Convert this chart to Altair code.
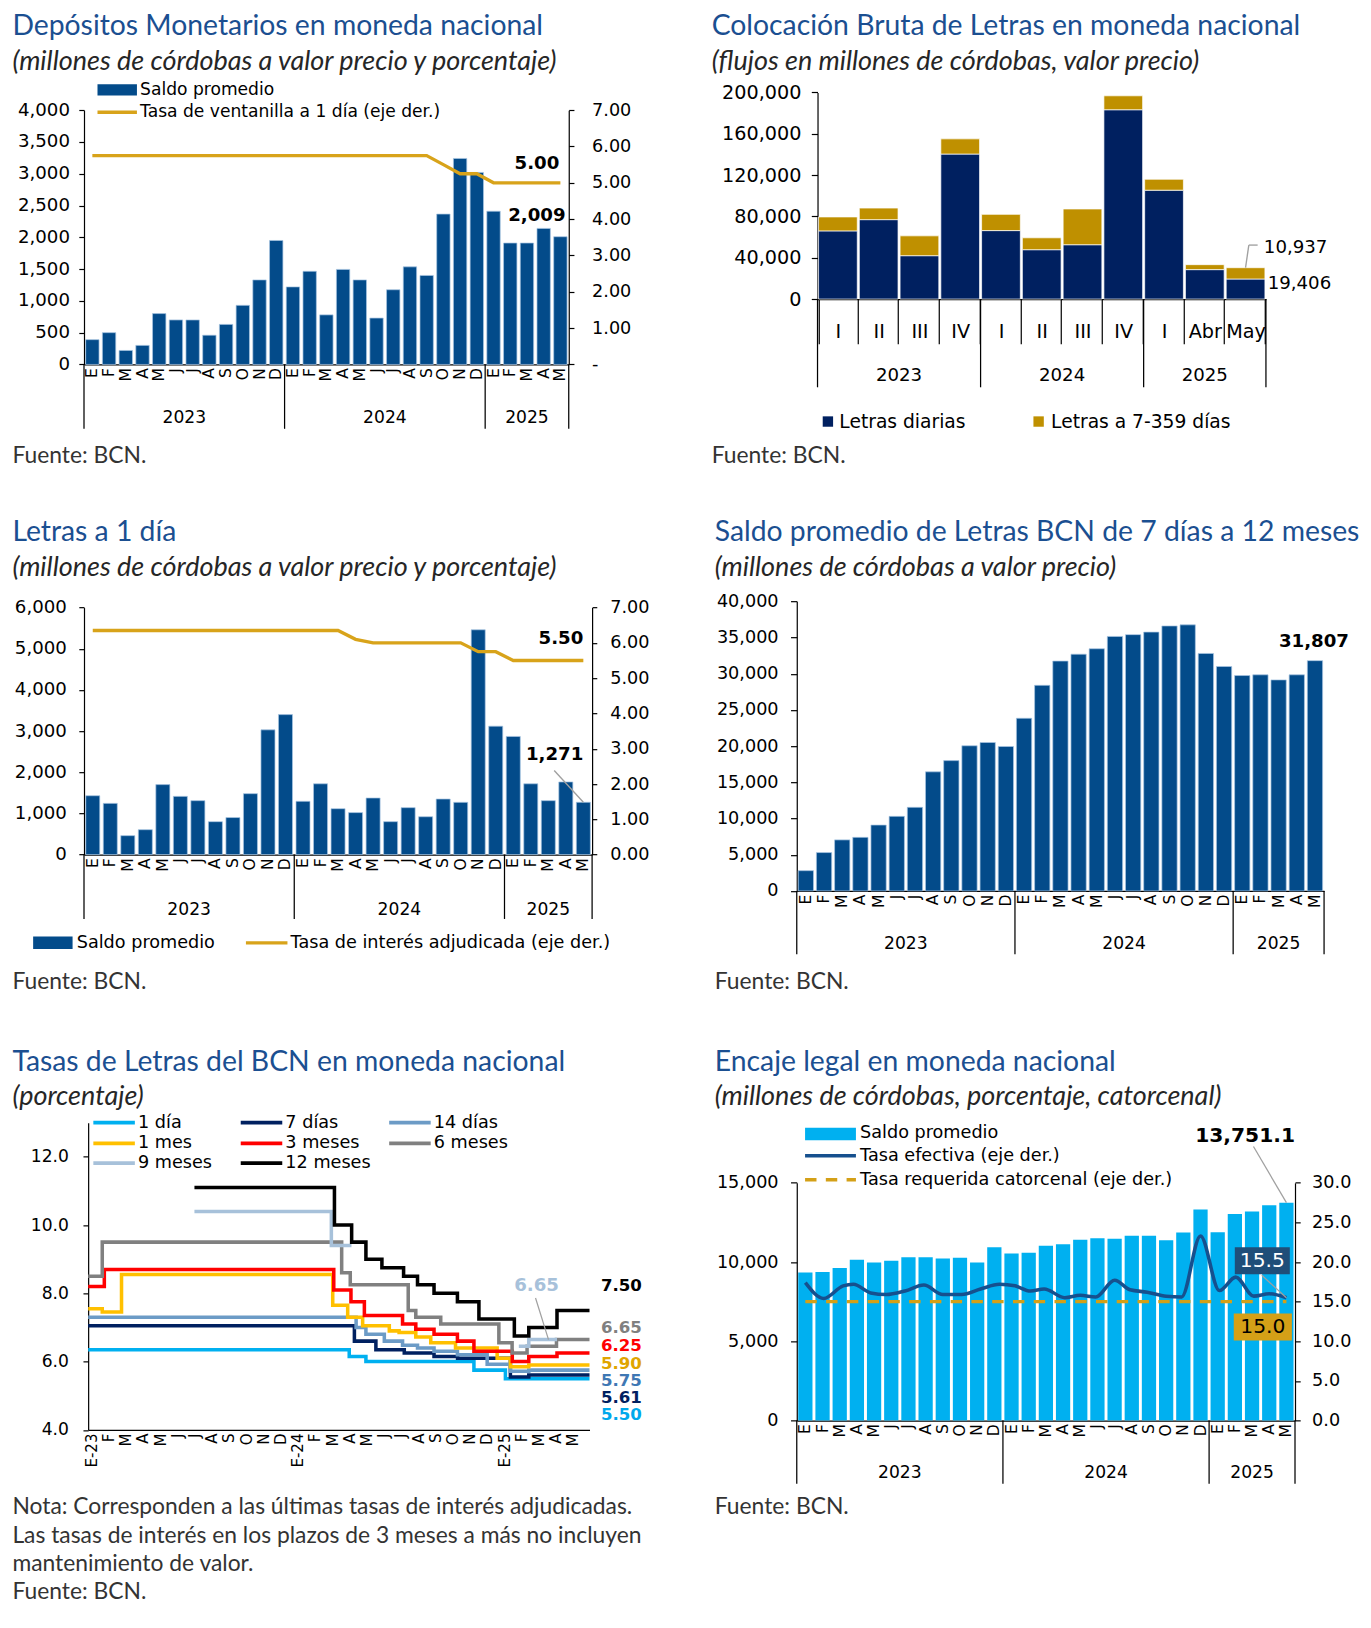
import altair as alt
import pandas as pd

# ======================= DATA =======================
MESES = ["E", "F", "M", "A", "M", "J", "J", "A", "S", "O", "N", "D"]

# 1) Depósitos monetarios en moneda nacional (E-23 .. M-25)
dep_saldo = [390, 500, 220, 300, 800, 700, 700, 460, 630, 930, 1330, 1950,
             1220, 1465, 780, 1495, 1330, 730, 1175, 1535, 1400, 2365, 3240, 3020,
             2410, 1910, 1910, 2140, 2009]
dep_tasa = [5.75, 5.75, 5.75, 5.75, 5.75, 5.75, 5.75, 5.75, 5.75, 5.75, 5.75, 5.75,
            5.75, 5.75, 5.75, 5.75, 5.75, 5.75, 5.75, 5.75, 5.75, 5.50, 5.25, 5.25,
            5.00, 5.00, 5.00, 5.00, 5.00]

# 2) Colocación bruta de letras
col_periodo = ["I", "II", "III", "IV", "I", "II", "III", "IV", "I", "Abr", "May"]
col_anio = [2023, 2023, 2023, 2023, 2024, 2024, 2024, 2024, 2025, 2025, 2025]
col_diarias = [66000, 76900, 42000, 140400, 66300, 47800, 52600, 183300, 105400, 28500, 19406]
col_7_359 = [13500, 11200, 19200, 14700, 15700, 11500, 34600, 13500, 10600, 4800, 10937]

# 3) Letras a 1 día
l1_saldo = [1430, 1245, 460, 605, 1700, 1415, 1310, 800, 900, 1480, 3030, 3400,
            1295, 1720, 1115, 1020, 1375, 800, 1140, 920, 1350, 1270, 5460, 3120,
            2870, 1720, 1310, 1765, 1271]
l1_tasa = [6.35, 6.35, 6.35, 6.35, 6.35, 6.35, 6.35, 6.35, 6.35, 6.35, 6.35, 6.35,
           6.35, 6.35, 6.35, 6.10, 6.00, 6.00, 6.00, 6.00, 6.00, 6.00, 5.75, 5.75,
           5.50, 5.50, 5.50, 5.50, 5.50]

# 4) Saldo promedio de letras de 7 días a 12 meses
l7_saldo = [2800, 5300, 7050, 7400, 9100, 10300, 11550, 16450, 18000, 20050, 20500, 19950,
            23850, 28400, 31750, 32700, 33450, 35150, 35400, 35750, 36600, 36750, 32800, 31000,
            29750, 29850, 29150, 29850, 31807]

# 5) Tasas de letras (mes = meses desde enero 2023; escalones)
t1d_mes = [-0.18, 15.0, 15.97, 22.25, 24.08, 28.97]
t1d_val = [6.35, 6.15, 6.00, 5.75, 5.50, 5.50]
t7d_mes = [-0.18, 15.3, 16.55, 18.2, 19.93, 21.3, 24.37, 25.44, 28.97]
t7d_val = [7.05, 6.60, 6.35, 6.25, 6.15, 6.10, 5.55, 5.61, 5.61]
t14d_mes = [-0.18, 15.4, 15.97, 17.04, 18.1, 18.97, 19.93, 21.29, 23.02, 24.37, 25.44, 28.97]
t14d_val = [7.30, 7.00, 6.80, 6.60, 6.48, 6.40, 6.30, 6.20, 5.92, 5.72, 5.75, 5.75]
t1m_mes = [-0.18, 0.64, 1.76, 14.04, 14.91, 15.78, 17.33, 17.9, 18.87, 19.74, 21.18, 23.6, 24.37, 25.44, 28.97]
t1m_val = [7.55, 7.45, 8.55, 7.65, 7.30, 7.05, 6.90, 6.85, 6.72, 6.55, 6.40, 6.10, 5.85, 5.90, 5.90]
t3m_mes = [-0.18, 0.76, 14.1, 15.1, 15.88, 18.1, 18.87, 19.93, 21.29, 22.25, 24.48, 25.44, 27.08, 28.97]
t3m_val = [8.20, 8.70, 8.10, 7.75, 7.35, 7.10, 6.95, 6.80, 6.60, 6.30, 6.00, 6.15, 6.25, 6.25]
t6m_mes = [-0.18, 0.64, 14.56, 15.06, 18.43, 18.87, 20.32, 23.7, 24.47, 25.34, 27.05, 28.97]
t6m_val = [8.50, 9.50, 8.60, 8.25, 7.50, 7.30, 7.10, 6.55, 6.25, 6.45, 6.65, 6.65]
t9m_mes = [6.0, 13.96, 15.13, 24.86, 25.44, 27.08]
t9m_val = [10.40, 9.40, 9.40, 6.45, 6.65, 6.65]
t9m_tramo = [1, 1, 1, 2, 2, 2]
t12m_mes = [6.0, 14.14, 15.14, 15.97, 16.9, 18.16, 18.97, 19.93, 21.29, 22.54, 24.6, 25.44, 27.08, 28.97]
t12m_val = [11.10, 10.00, 9.50, 9.00, 8.75, 8.50, 8.25, 8.00, 7.75, 7.25, 6.75, 7.00, 7.50, 7.50]

# 6) Encaje legal
enc_saldo = [9340, 9380, 9630, 10140, 9970, 10080, 10310, 10310, 10230, 10270, 9970, 10940,
             10540, 10590, 11030, 11130, 11410, 11510, 11470, 11660, 11660, 11370, 11870, 13310,
             11880, 13040, 13190, 13590, 13751.1]
enc_tasa_mes = [0.0, 1.07, 2.2, 2.8, 3.8, 4.7, 5.8, 6.9, 8.0, 9.1, 10.2, 11.3, 12.2, 13.1, 13.9,
                15.1, 16.0, 16.9, 18.0, 18.9, 19.9, 21.0, 21.9, 23.0, 24.1, 25.05, 26.1, 27.0, 28.0]
enc_tasa = [17.4, 15.4, 17.0, 17.2, 16.1, 15.9, 16.35, 17.1, 15.9, 15.9, 16.6, 17.2, 17.0, 16.35, 16.6,
            15.5, 15.8, 15.6, 17.7, 16.5, 16.2, 15.7, 15.6, 23.3, 16.4, 18.1, 15.7, 16.0, 15.5]
enc_req_mes = [0, 28]
enc_req = [15.0, 15.0]

# ======================= STYLE / LAYOUT =======================
K = 1.038
TF = "Lato"
AF = "DejaVu Sans"
TITLE_C = "#1B4F91"
SUB_C = "#262626"
SRC_C = "#333333"
BAR = "#034B8A"
BAR_EDGE = "#A9C6E3"
GOLD = "#D8A31A"
NAVY = "#002060"
LBLUE = "#00B0F0"
LEAD_C = "#A0A0A0"
NUM = ",.0f"

W, H = 508, 310
ORIG = {1: (79, 75), 2: (765, 75), 3: (79, 574), 4: (765, 574), 5: (79, 1073), 6: (765, 1073)}
PLOT = {1: (79, 546, 105, 350), 2: (785, 1217, 88, 287), 3: (79, 568.5, 584, 822),
        4: (765, 1273, 578, 857), 5: (83, 566, 1080, 1376), 6: (765, 1245, 1138, 1367)}

ONE = pd.DataFrame({"k": [0]})


def rx(i, x):
    return (x - ORIG[i][0]) * K


def ry(i, y):
    return (y - ORIG[i][1]) * K


def xr(i):
    return [rx(i, PLOT[i][0]), rx(i, PLOT[i][1])]


def yr(i):
    return [ry(i, PLOT[i][3]), ry(i, PLOT[i][2])]


def off_left(i):
    return -rx(i, PLOT[i][0])


def off_right(i):
    return rx(i, PLOT[i][1]) - W * K


def off_bottom(i):
    return ry(i, PLOT[i][3]) - H * K


def text(i, s, x, y, size, font=AF, color="black", weight="normal", style="normal",
         align="left", baseline="middle"):
    return alt.Chart(ONE).mark_text(
        text=s, font=font, fontSize=size * K, color=color, fontWeight=weight,
        fontStyle=style, align=align, baseline=baseline
    ).encode(x=alt.value(rx(i, x)), y=alt.value(ry(i, y)))


def rule(i, x1, y1, x2, y2, color="black", width=1.0, dash=None):
    kw = dict(color=color, strokeWidth=width * K)
    if dash is not None:
        kw["strokeDash"] = [d * K for d in dash]
    return alt.Chart(ONE).mark_rule(**kw).encode(
        x=alt.value(rx(i, x1)), x2=alt.value(rx(i, x2)),
        y=alt.value(ry(i, y1)), y2=alt.value(ry(i, y2)))


def box(i, x1, y1, x2, y2, color):
    return alt.Chart(ONE).mark_rect(color=color).encode(
        x=alt.value(rx(i, x1)), x2=alt.value(rx(i, x2)),
        y=alt.value(ry(i, y1)), y2=alt.value(ry(i, y2)))


def heading(i, title, sub, x, y_t, y_s):
    return [text(i, title, x, y_t, 27.3, font=TF, color=TITLE_C),
            text(i, sub, x, y_s + 0.5, 26, font=TF, color=SUB_C, style="italic")]


def source(i, s, x, y, size=22):
    return text(i, s, x, y, size, font=TF, color=SRC_C)


def month_cats(n):
    return [f"{MESES[k % 12]}-{2023 + k // 12}{k % 12:02d}" for k in range(n)]


def month_axis(i, size=15):
    return alt.Axis(orient="bottom", offset=off_bottom(i), labelAngle=-90,
                    labelExpr="split(datum.label, '-')[0]", ticks=False,
                    labelFontSize=size * K, labelPadding=3 * K, title=None,
                    labelOverlap=False)


def year_marks(i, years, domain, y_top, y_bot, y_lab, size=16.5):
    # separators at year boundaries and year labels centred on each year
    idx = list(range(len(years)))
    uniq = []
    for y in years:
        if y not in uniq:
            uniq.append(y)
    firsts = [min(k for k in idx if years[k] == y) for y in uniq]
    lasts = [max(k for k in idx if years[k] == y) for y in uniq]
    cuts = [f - 0.5 for f in firsts] + [lasts[-1] + 0.5]
    cents = [(f + l) / 2 for f, l in zip(firsts, lasts)]
    xs = alt.Scale(domain=domain, range=xr(i), nice=False, zero=False)
    r = alt.Chart(pd.DataFrame({"pos": cuts})).mark_rule(color="black", strokeWidth=1.2 * K).encode(
        x=alt.X("pos:Q", scale=xs, axis=None),
        y=alt.value(ry(i, y_top)), y2=alt.value(ry(i, y_bot)))
    t = alt.Chart(pd.DataFrame({"pos": cents, "lab": [str(u) for u in uniq]})).mark_text(
        font=AF, fontSize=size * K, color="black").encode(
        x=alt.X("pos:Q", scale=xs, axis=None), y=alt.value(ry(i, y_lab)), text="lab:N")
    return [r, t]


def cell(layers):
    return alt.layer(*layers).resolve_scale(x="independent", y="independent").properties(
        width=W * K, height=H * K)


# ======================= PANEL 1 =======================
def panel1():
    i = 1
    n = len(dep_saldo)
    cats = month_cats(n)
    years = [2023 + k // 12 for k in range(n)]
    df = pd.DataFrame({"cat": cats, "idx": list(range(n)), "saldo": dep_saldo, "tasa": dep_tasa})
    xs_b = alt.Scale(domain=cats, range=xr(i), paddingInner=0.2, paddingOuter=0.1)
    xs_q = alt.Scale(domain=[-0.5, n - 0.5], range=xr(i), nice=False, zero=False)
    ys_l = alt.Scale(domain=[0, 4000], range=yr(i), nice=False)
    ys_r = alt.Scale(domain=[0, 7], range=yr(i), nice=False)
    bars = alt.Chart(df).mark_bar(color=BAR, stroke=BAR_EDGE, strokeWidth=0.7).encode(
        x=alt.X("cat:N", sort=cats, scale=xs_b, axis=month_axis(i)),
        y=alt.Y("saldo:Q", scale=ys_l, axis=alt.Axis(
            orient="left", values=list(range(0, 4001, 500)), format=NUM, tickSize=5 * K,
            labelPadding=9 * K, labelFontSize=17.5 * K, title=None, labelOverlap=False)))
    line = alt.Chart(df).mark_line(color=GOLD, strokeWidth=3.2 * K).encode(
        x=alt.X("idx:Q", scale=xs_q, axis=None),
        y=alt.Y("tasa:Q", scale=ys_r, axis=alt.Axis(
            orient="right", offset=off_right(i), values=list(range(0, 8)),
            labelExpr="datum.value == 0 ? '-' : format(datum.value, '.2f')",
            tickSize=5 * K, labelPadding=17 * K, labelFontSize=17 * K, title=None,
            labelOverlap=False)))
    last = df.iloc[[-1]]
    lab_t = alt.Chart(last).mark_text(font=AF, fontWeight="bold", fontSize=17.5 * K, align="right",
                                      dx=-1 * K, dy=-18 * K).encode(
        x=alt.X("idx:Q", scale=xs_q, axis=None), y=alt.Y("tasa:Q", scale=ys_r, axis=None),
        text=alt.Text("tasa:Q", format=".2f"))
    lab_s = alt.Chart(last).mark_text(font=AF, fontWeight="bold", fontSize=17.5 * K, align="right",
                                      dx=5 * K, dy=-20 * K).encode(
        x=alt.X("idx:Q", scale=xs_q, axis=None), y=alt.Y("saldo:Q", scale=ys_l, axis=None),
        text=alt.Text("saldo:Q", format=NUM))
    anchor = alt.Chart(ONE).mark_rule(color="white", strokeWidth=1).encode(
        x=alt.value(8 - 79 * K), x2=alt.value(9 - 79 * K),
        y=alt.value(8 - 75 * K), y2=alt.value(9 - 75 * K))
    layers = [anchor, bars, line, lab_t, lab_s]
    layers += year_marks(i, years, [-0.5, n - 0.5], 350, 412, 402)
    layers += heading(i, "Depósitos Monetarios en moneda nacional",
                      "(millones de córdobas a valor precio y porcentaje)", 10, 24, 58)
    layers += [box(i, 92, 80, 130, 91, BAR), text(i, "Saldo promedio", 133, 85.5, 16.5),
               rule(i, 92, 107, 130, 107, GOLD, 3.2),
               text(i, "Tasa de ventanilla a 1 día (eje der.)", 133, 107, 16.5),
               source(i, "Fuente: BCN.", 10, 438)]
    return cell(layers)


# ======================= PANEL 2 =======================
def panel2():
    i = 2
    n = len(col_periodo)
    cats = [f"{p}-{a}" for p, a in zip(col_periodo, col_anio)]
    rows = []
    for c, d, o in zip(cats, col_diarias, col_7_359):
        rows.append({"cat": c, "serie": "Letras diarias", "valor": d, "ord": 0})
        rows.append({"cat": c, "serie": "Letras a 7-359 días", "valor": o, "ord": 1})
    df = pd.DataFrame(rows)
    xs_b = alt.Scale(domain=cats, range=xr(i), paddingInner=0.05, paddingOuter=0.025)
    xs_q = alt.Scale(domain=[-0.5, n - 0.5], range=xr(i), nice=False, zero=False)
    ys = alt.Scale(domain=[0, 200000], range=yr(i), nice=False)
    bars = alt.Chart(df).mark_bar(stroke="white", strokeWidth=0.7).encode(
        x=alt.X("cat:N", sort=cats, scale=xs_b, axis=alt.Axis(
            orient="bottom", offset=off_bottom(i), labelAngle=0,
            labelExpr="split(datum.label, '-')[0]", tickBand="extent", tickSize=43 * K,
            labelBaseline="middle", labelPadding=-12 * K, labelFontSize=18.5 * K, title=None,
            labelOverlap=False)),
        y=alt.Y("valor:Q", stack="zero", scale=ys, axis=alt.Axis(
            orient="left", offset=off_left(i), values=list(range(0, 200001, 40000)), format=NUM,
            tickSize=6 * K, labelPadding=10 * K, labelFontSize=18.5 * K, title=None,
            labelOverlap=False)),
        color=alt.Color("serie:N", scale=alt.Scale(domain=["Letras diarias", "Letras a 7-359 días"],
                                                   range=[NAVY, "#BF9000"]), legend=None),
        order=alt.Order("ord:Q"))
    last = pd.DataFrame({"idx": [n - 1], "d": [col_diarias[-1]], "o": [col_7_359[-1]],
                         "tot": [col_diarias[-1] + col_7_359[-1]]})
    lab_o = alt.Chart(last).mark_text(font=AF, fontSize=17.5 * K, align="left", dx=17.6 * K,
                                      dy=-19.3 * K).encode(
        x=alt.X("idx:Q", scale=xs_q, axis=None), y=alt.Y("tot:Q", scale=ys, axis=None),
        text=alt.Text("o:Q", format=NUM))
    lab_d = alt.Chart(last).mark_text(font=AF, fontSize=17.5 * K, align="left", dx=21.3 * K,
                                      dy=5.1 * K).encode(
        x=alt.X("idx:Q", scale=xs_q, axis=None), y=alt.Y("d:Q", scale=ys, axis=None),
        text=alt.Text("d:Q", format=NUM))
    lead = alt.Chart(last).mark_rule(color=LEAD_C, strokeWidth=1.3 * K).encode(
        x=alt.X("idx:Q", scale=xs_q, axis=None), y=alt.Y("tot:Q", scale=ys, axis=None),
        x2=alt.value(rx(i, 1200.5)), y2=alt.value(ry(i, 235)))
    layers = [bars, lead, rule(i, 1200.5, 235, 1209, 235, LEAD_C, 1.3), lab_o, lab_d]
    layers += year_marks(i, col_anio, [-0.5, n - 0.5], 287, 372, 361, size=17.5)
    layers += heading(i, "Colocación Bruta de Letras en moneda nacional",
                      "(flujos en millones de córdobas, valor precio)", 683, 24, 58)
    layers += [box(i, 790, 400, 800, 410, NAVY), text(i, "Letras diarias", 806, 405, 18),
               box(i, 993, 400, 1003, 410, "#BF9000"), text(i, "Letras a 7-359 días", 1010, 405, 18),
               source(i, "Fuente: BCN.", 683, 438)]
    return cell(layers)


# ======================= PANEL 3 =======================
def panel3():
    i = 3
    n = len(l1_saldo)
    cats = month_cats(n)
    years = [2023 + k // 12 for k in range(n)]
    df = pd.DataFrame({"cat": cats, "idx": list(range(n)), "saldo": l1_saldo, "tasa": l1_tasa})
    xs_b = alt.Scale(domain=cats, range=xr(i), paddingInner=0.2, paddingOuter=0.1)
    xs_q = alt.Scale(domain=[-0.5, n - 0.5], range=xr(i), nice=False, zero=False)
    ys_l = alt.Scale(domain=[0, 6000], range=yr(i), nice=False)
    ys_r = alt.Scale(domain=[0, 7], range=yr(i), nice=False)
    bars = alt.Chart(df).mark_bar(color=BAR, stroke=BAR_EDGE, strokeWidth=0.7).encode(
        x=alt.X("cat:N", sort=cats, scale=xs_b, axis=month_axis(i)),
        y=alt.Y("saldo:Q", scale=ys_l, axis=alt.Axis(
            orient="left", values=list(range(0, 6001, 1000)), format=NUM, tickSize=5 * K,
            labelPadding=12 * K, labelFontSize=17.5 * K, title=None, labelOverlap=False)))
    line = alt.Chart(df).mark_line(color=GOLD, strokeWidth=3.2 * K).encode(
        x=alt.X("idx:Q", scale=xs_q, axis=None),
        y=alt.Y("tasa:Q", scale=ys_r, axis=alt.Axis(
            orient="right", offset=off_right(i), values=list(range(0, 8)), format=".2f",
            tickSize=4.5 * K, labelPadding=12.5 * K, labelFontSize=17 * K, title=None,
            labelOverlap=False)))
    last = df.iloc[[-1]]
    lab_t = alt.Chart(last).mark_text(font=AF, fontWeight="bold", fontSize=17.5 * K, align="right",
                                      dx=0 * K, dy=-21 * K).encode(
        x=alt.X("idx:Q", scale=xs_q, axis=None), y=alt.Y("tasa:Q", scale=ys_r, axis=None),
        text=alt.Text("tasa:Q", format=".2f"))
    lab_s = alt.Chart(last).mark_text(font=AF, fontWeight="bold", fontSize=17.5 * K, align="right",
                                      dx=0 * K, dy=-45.6 * K).encode(
        x=alt.X("idx:Q", scale=xs_q, axis=None), y=alt.Y("saldo:Q", scale=ys_l, axis=None),
        text=alt.Text("saldo:Q", format=NUM))
    lead = alt.Chart(last).mark_rule(color=LEAD_C, strokeWidth=1.3 * K).encode(
        x=alt.X("idx:Q", scale=xs_q, axis=None), y=alt.Y("saldo:Q", scale=ys_l, axis=None),
        x2=alt.value(rx(i, 532)), y2=alt.value(ry(i, 741)))
    layers = [bars, line, lead, lab_t, lab_s]
    layers += year_marks(i, years, [-0.5, n - 0.5], 822, 884, 875)
    layers += heading(i, "Letras a 1 día",
                      "(millones de córdobas a valor precio y porcentaje)", 10, 511, 545)
    layers += [box(i, 30, 901, 68, 913, BAR), text(i, "Saldo promedio", 72, 907, 17),
               rule(i, 235, 907, 275, 907, GOLD, 3.2),
               text(i, "Tasa de interés adjudicada (eje der.)", 278, 907, 17),
               source(i, "Fuente: BCN.", 10, 945)]
    return cell(layers)


# ======================= PANEL 4 =======================
def panel4():
    i = 4
    n = len(l7_saldo)
    cats = month_cats(n)
    years = [2023 + k // 12 for k in range(n)]
    df = pd.DataFrame({"cat": cats, "idx": list(range(n)), "saldo": l7_saldo})
    xs_b = alt.Scale(domain=cats, range=xr(i), paddingInner=0.16, paddingOuter=0.08)
    xs_q = alt.Scale(domain=[-0.5, n - 0.5], range=xr(i), nice=False, zero=False)
    ys = alt.Scale(domain=[0, 40000], range=yr(i), nice=False)
    bars = alt.Chart(df).mark_bar(color=BAR, stroke=BAR_EDGE, strokeWidth=0.7).encode(
        x=alt.X("cat:N", sort=cats, scale=xs_b, axis=month_axis(i)),
        y=alt.Y("saldo:Q", scale=ys, axis=alt.Axis(
            orient="left", values=list(range(0, 40001, 5000)), format=NUM, tickSize=6 * K,
            labelPadding=12 * K, labelFontSize=17 * K, title=None, labelOverlap=False)))
    last = df.iloc[[-1]]
    lab = alt.Chart(last).mark_text(font=AF, fontWeight="bold", fontSize=17.5 * K, align="right",
                                    dx=32.8 * K, dy=-18 * K).encode(
        x=alt.X("idx:Q", scale=xs_q, axis=None), y=alt.Y("saldo:Q", scale=ys, axis=None),
        text=alt.Text("saldo:Q", format=NUM))
    layers = [bars, lab]
    layers += year_marks(i, years, [-0.5, n - 0.5], 857, 918, 908)
    layers += heading(i, "Saldo promedio de Letras BCN de 7 días a 12 meses",
                      "(millones de córdobas a valor precio)", 686, 511, 545)
    layers += [source(i, "Fuente: BCN.", 686, 945)]
    return cell(layers)


# ======================= PANEL 5 =======================
def panel5():
    i = 5
    series = [
        ("1 día", t1d_mes, t1d_val, None, LBLUE, "#00A8EC"),
        ("7 días", t7d_mes, t7d_val, None, NAVY, NAVY),
        ("14 días", t14d_mes, t14d_val, None, "#6C9BC6", "#3F78B4"),
        ("1 mes", t1m_mes, t1m_val, None, "#FFC000", "#E0A500"),
        ("3 meses", t3m_mes, t3m_val, None, "#FF0000", "#FF0000"),
        ("6 meses", t6m_mes, t6m_val, None, "#808080", "#808080"),
        ("9 meses", t9m_mes, t9m_val, t9m_tramo, "#A7C1DA", "#A7C1DA"),
        ("12 meses", t12m_mes, t12m_val, None, "#000000", "#000000"),
    ]
    rows = []
    for name, ms, vs, tr, _, _ in series:
        for k, (m, v) in enumerate(zip(ms, vs)):
            rows.append({"serie": name, "tramo": f"{name}-{tr[k] if tr else 1}", "mes": m, "val": v})
    df = pd.DataFrame(rows)
    names = [s[0] for s in series]
    colors = [s[4] for s in series]
    xs = alt.Scale(domain=[-0.18, 28.97], range=xr(i), nice=False, zero=False)
    ys = alt.Scale(domain=[4, 13], range=yr(i), nice=False, zero=False)
    mexpr = ("datum.value == 0 ? 'E-23' : (datum.value == 12 ? 'E-24' : (datum.value == 24 ? 'E-25' : "
             "['E','F','M','A','M','J','J','A','S','O','N','D'][datum.value % 12]))")
    lines = alt.Chart(df).mark_line(interpolate="step-after", strokeWidth=3.4 * K).encode(
        x=alt.X("mes:Q", scale=xs, axis=alt.Axis(
            orient="bottom", offset=off_bottom(i), values=list(range(29)), labelExpr=mexpr,
            labelAngle=-90, ticks=False, labelFontSize=14.5 * K, labelPadding=3 * K, title=None,
            labelOverlap=False, labelFlush=False)),
        y=alt.Y("val:Q", scale=ys, axis=alt.Axis(
            orient="left", offset=off_left(i), values=[4, 6, 8, 10, 12], format=".1f",
            tickSize=5 * K, labelPadding=14 * K, labelFontSize=16.5 * K, title=None,
            labelOverlap=False)),
        color=alt.Color("serie:N", scale=alt.Scale(domain=names, range=colors), legend=None),
        detail="tramo:N")
    layers = [lines]
    # end labels
    end_y = {"12 meses": 1237, "6 meses": 1278, "3 meses": 1295, "1 mes": 1312.5,
             "14 días": 1329, "7 días": 1345.5, "1 día": 1361.5}
    for name, ms, vs, tr, col, lcol in series:
        if name in end_y:
            layers.append(text(i, f"{vs[-1]:.2f}", 577, end_y[name], 16, color=lcol, weight="bold"))
    # 9 meses annotation
    layers.append(rule(i, 514, 1249, 526.5, 1289, LEAD_C, 1.2))
    layers.append(text(i, f"{t9m_val[-1]:.2f}", 515, 1237, 17.5, color="#A7C1DA", weight="bold",
                       align="center"))
    # legend
    leg_pos = [(88, 1080), (230, 1080), (373, 1080), (88, 1100), (230, 1100), (373, 1100),
               (88, 1119), (230, 1119)]
    for (name, _, _, _, col, _), (lx, ly) in zip(series, leg_pos):
        layers.append(rule(i, lx, ly, lx + 40, ly, col, 3.6))
        layers.append(text(i, name, lx + 43, ly, 17))
    layers += heading(i, "Tasas de Letras del BCN en moneda nacional", "(porcentaje)", 10, 1022, 1055)
    layers += [source(i, "Nota: Corresponden a las últimas tasas de interés adjudicadas.", 10, 1450),
               source(i, "Las tasas de interés en los plazos de 3 meses a más no incluyen", 10, 1478),
               source(i, "mantenimiento de valor.", 10, 1505),
               source(i, "Fuente: BCN.", 10, 1532)]
    return cell(layers)


# ======================= PANEL 6 =======================
def panel6():
    i = 6
    n = len(enc_saldo)
    cats = month_cats(n)
    years = [2023 + k // 12 for k in range(n)]
    df = pd.DataFrame({"cat": cats, "idx": list(range(n)), "saldo": enc_saldo})
    dft = pd.DataFrame({"mes": enc_tasa_mes, "tasa": enc_tasa})
    dfr = pd.DataFrame({"mes": enc_req_mes, "req": enc_req})
    xs_b = alt.Scale(domain=cats, range=xr(i), paddingInner=0.17, paddingOuter=0.085)
    xs_q = alt.Scale(domain=[-0.5, n - 0.5], range=xr(i), nice=False, zero=False)
    ys_l = alt.Scale(domain=[0, 15000], range=yr(i), nice=False)
    ys_r = alt.Scale(domain=[0, 30], range=yr(i), nice=False)
    bars = alt.Chart(df).mark_bar(color=LBLUE).encode(
        x=alt.X("cat:N", sort=cats, scale=xs_b, axis=month_axis(i)),
        y=alt.Y("saldo:Q", scale=ys_l, axis=alt.Axis(
            orient="left", values=[0, 5000, 10000, 15000], format=NUM, tickSize=6 * K,
            labelPadding=12 * K, labelFontSize=17 * K, title=None, labelOverlap=False)))
    req = alt.Chart(dfr).mark_line(color="#D4A017", strokeWidth=3.2 * K, strokeDash=[11 * K, 9 * K]).encode(
        x=alt.X("mes:Q", scale=xs_q, axis=None),
        y=alt.Y("req:Q", scale=ys_r, axis=None))
    line = alt.Chart(dft).mark_line(color="#16508E", strokeWidth=3.4 * K, interpolate="monotone").encode(
        x=alt.X("mes:Q", scale=xs_q, axis=None),
        y=alt.Y("tasa:Q", scale=ys_r, axis=alt.Axis(
            orient="right", offset=off_right(i), values=[0, 5, 10, 15, 20, 25, 30], format=".1f",
            tickSize=5 * K, labelPadding=11 * K, labelFontSize=17 * K, title=None,
            labelOverlap=False)))
    last = df.iloc[[-1]]
    lab = alt.Chart(last).mark_text(font=AF, fontWeight="bold", fontSize=19.5 * K, align="right",
                                    dx=8.3 * K, dy=-64 * K).encode(
        x=alt.X("idx:Q", scale=xs_q, axis=None), y=alt.Y("saldo:Q", scale=ys_l, axis=None),
        text=alt.Text("saldo:Q", format=",.1f"))
    lead = alt.Chart(last).mark_rule(color=LEAD_C, strokeWidth=1.2 * K).encode(
        x=alt.X("idx:Q", scale=xs_q, axis=None), y=alt.Y("saldo:Q", scale=ys_l, axis=None),
        x2=alt.value(rx(i, 1205)), y2=alt.value(ry(i, 1103)))
    lastt = dft.iloc[[-1]]
    lead2 = alt.Chart(lastt).mark_rule(color=LEAD_C, strokeWidth=1.2 * K).encode(
        x=alt.X("mes:Q", scale=xs_q, axis=None), y=alt.Y("tasa:Q", scale=ys_r, axis=None),
        x2=alt.value(rx(i, 1213)), y2=alt.value(ry(i, 1227)))
    layers = [bars, req, line, lead, lab, lead2]
    layers += [box(i, 1187, 1200, 1240, 1226, "#1F4E79"),
               text(i, f"{enc_tasa[-1]:.1f}", 1213.5, 1213, 19.5, color="white", align="center"),
               box(i, 1186, 1264, 1242, 1290, "#D4A017"),
               text(i, f"{enc_req[-1]:.1f}", 1214, 1277, 19.5, color="black", align="center")]
    layers += year_marks(i, years, [-0.5, n - 0.5], 1367, 1428, 1418)
    layers += heading(i, "Encaje legal en moneda nacional",
                      "(millones de córdobas, porcentaje, catorcenal)", 686, 1022, 1055)
    layers += [box(i, 773, 1085, 822, 1097, LBLUE), text(i, "Saldo promedio", 826, 1090, 17),
               rule(i, 773, 1112, 822, 1112, "#16508E", 3.4),
               text(i, "Tasa efectiva (eje der.)", 826, 1112, 17),
               rule(i, 773, 1135, 822, 1135, "#D4A017", 3.2, dash=[11, 9]),
               text(i, "Tasa requerida catorcenal (eje der.)", 826, 1135, 17),
               source(i, "Fuente: BCN.", 686, 1450)]
    return cell(layers)


chart = alt.concat(
    panel1(), panel2(), panel3(), panel4(), panel5(), panel6(),
    columns=2, spacing={"row": 189 * K, "column": 178 * K}, bounds="flush"
).resolve_scale(color="independent").properties(padding=0).configure_view(
    stroke="transparent"
).configure_axis(
    labelFont=AF, labelColor="black", domainColor="black", tickColor="black", grid=False,
    domainWidth=1.2, tickWidth=1.2
)

chart.save("out.html", embed_options={"renderer": "svg", "actions": False})
